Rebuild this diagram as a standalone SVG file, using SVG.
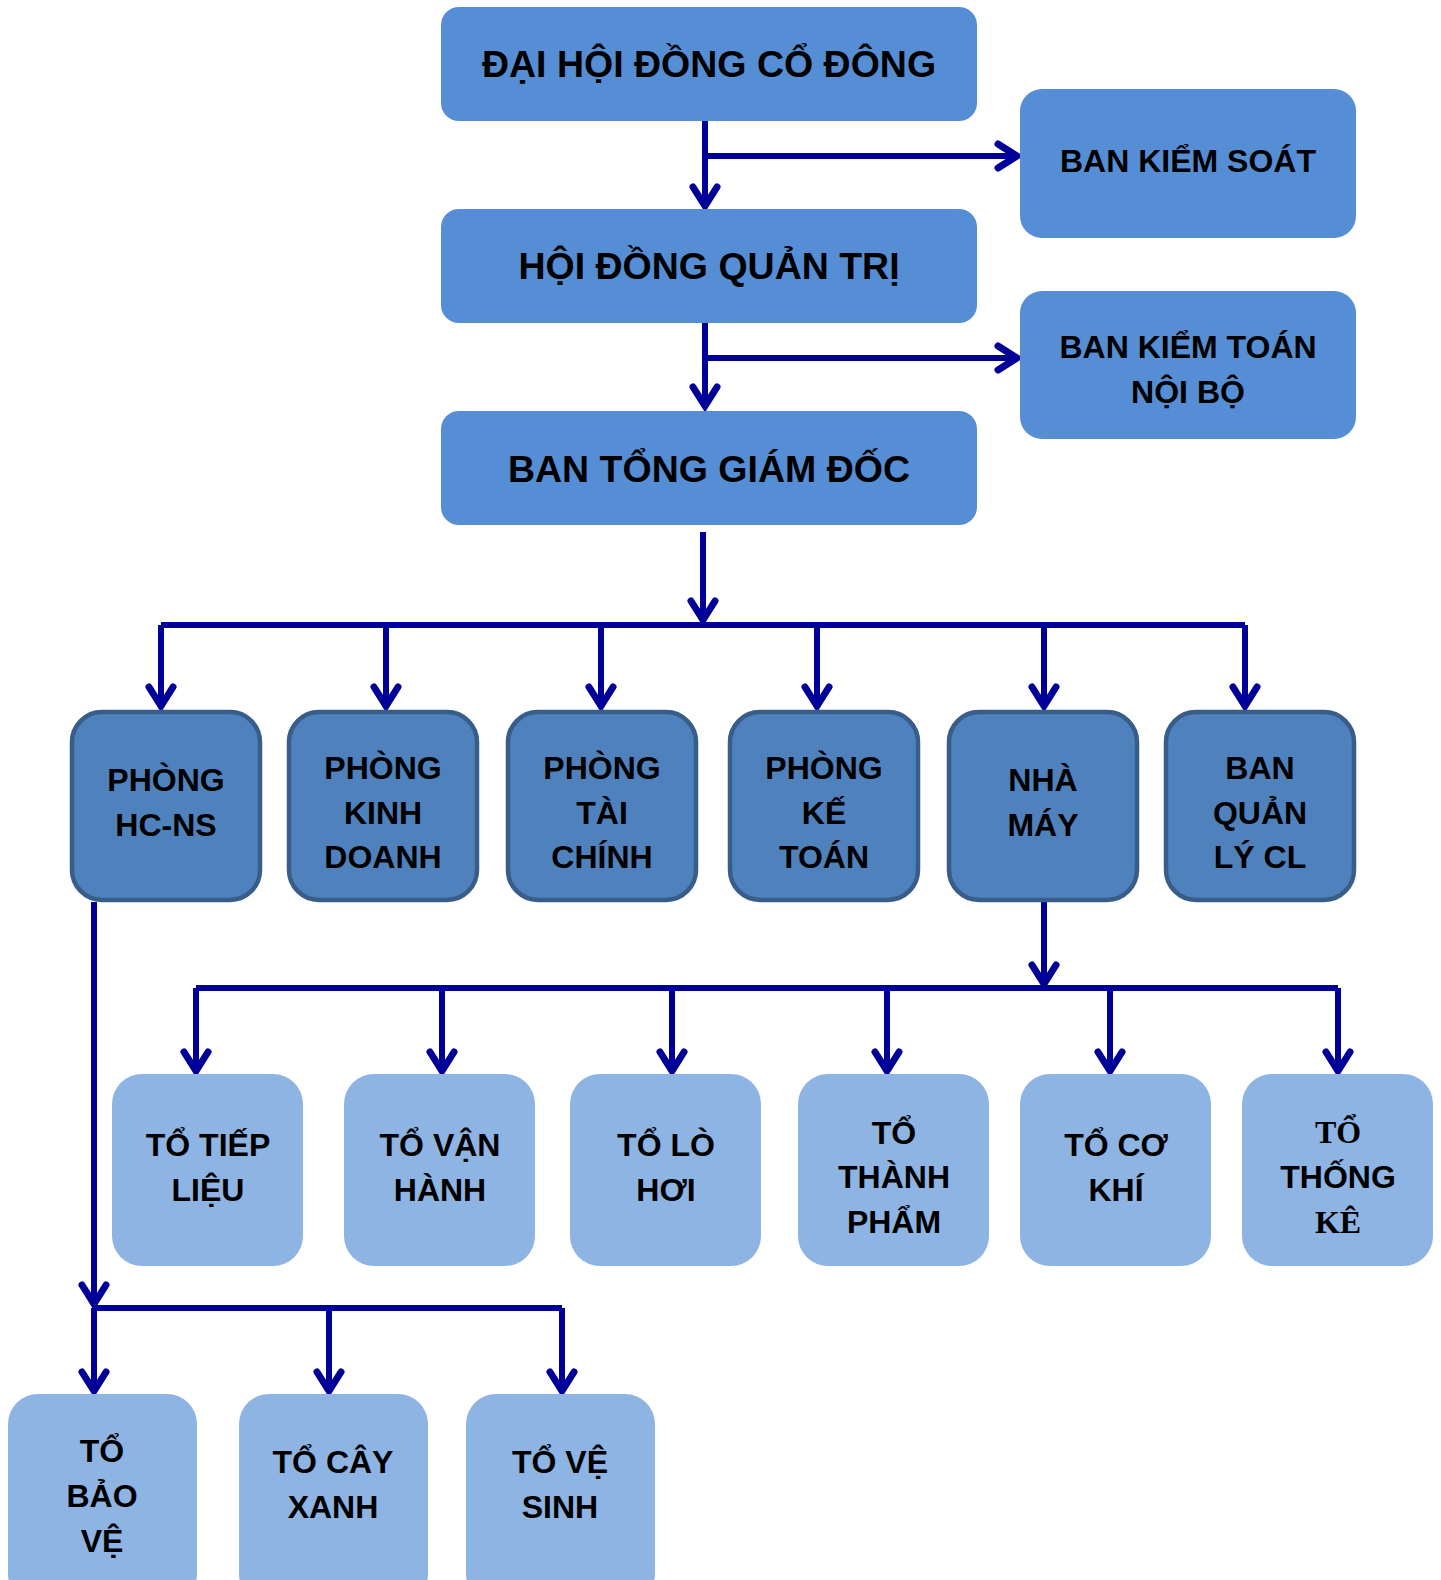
<svg xmlns="http://www.w3.org/2000/svg" width="1441" height="1580" viewBox="0 0 1441 1580">
<style>
  .top { fill: #558ed5; }
  .mid { fill: #4f81bd; stroke: #385d8a; stroke-width: 4.5; }
  .low { fill: #8eb4e3; }
  text { font-family: "Liberation Sans", Arial, sans-serif; font-weight: bold; fill: #000; text-anchor: middle; }
  .t1 { font-size: 37.5px; }
  .t2 { font-size: 32px; }
  .t3 { font-size: 32px; }
  .serif { font-family: "Liberation Serif", "Times New Roman", serif; }
  .conn { fill: none; stroke: #000099; stroke-width: 6; }
</style>
<defs>
  <marker id="arr" markerUnits="userSpaceOnUse" markerWidth="40" markerHeight="40" refX="0" refY="0" viewBox="-25 -20 30 40" orient="auto" overflow="visible">
    <path d="M-20,-12 L-1,0 L-20,12" fill="none" stroke="#000099" stroke-width="7" stroke-linecap="round" stroke-linejoin="miter" stroke-miterlimit="4"/>
  </marker>
</defs>

<rect width="1441" height="1580" fill="#ffffff"/>

<g id="connectors" class="conn">
  <path d="M705,121 V207" marker-end="url(#arr)"/>
  <path d="M705,156 H1018" marker-end="url(#arr)"/>
  <path d="M705,323 V407" marker-end="url(#arr)"/>
  <path d="M705,358 H1018" marker-end="url(#arr)"/>
  <path d="M703,532 V621" marker-end="url(#arr)"/>
  <path d="M161,625 H1245"/>
  <path d="M161,625 V707" marker-end="url(#arr)"/>
  <path d="M386,625 V707" marker-end="url(#arr)"/>
  <path d="M601,625 V707" marker-end="url(#arr)"/>
  <path d="M817,625 V707" marker-end="url(#arr)"/>
  <path d="M1044,625 V707" marker-end="url(#arr)"/>
  <path d="M1245,625 V707" marker-end="url(#arr)"/>
  <path d="M1044,902 V985" marker-end="url(#arr)"/>
  <path d="M196,988 H1338"/>
  <path d="M196,988 V1072" marker-end="url(#arr)"/>
  <path d="M442,988 V1072" marker-end="url(#arr)"/>
  <path d="M672,988 V1072" marker-end="url(#arr)"/>
  <path d="M887,988 V1072" marker-end="url(#arr)"/>
  <path d="M1110,988 V1072" marker-end="url(#arr)"/>
  <path d="M1338,988 V1072" marker-end="url(#arr)"/>
  <path d="M94,902 V1305" marker-end="url(#arr)"/>
  <path d="M94,1308 H562"/>
  <path d="M94,1308 V1392" marker-end="url(#arr)"/>
  <path d="M329,1308 V1392" marker-end="url(#arr)"/>
  <path d="M562,1308 V1392" marker-end="url(#arr)"/>
</g>

<g id="dai-hoi-dong-co-dong">
  <rect class="top" x="441" y="7" width="536" height="114" rx="18"/>
  <text class="t1" x="709" y="77">ĐẠI HỘI ĐỒNG CỔ ĐÔNG</text>
</g>
<g id="ban-kiem-soat">
  <rect class="top" x="1020" y="89" width="336" height="149" rx="22"/>
  <text class="t2" x="1188" y="172">BAN KIỂM SOÁT</text>
</g>
<g id="hoi-dong-quan-tri">
  <rect class="top" x="441" y="209" width="536" height="114" rx="18"/>
  <text class="t1" x="709" y="279">HỘI ĐỒNG QUẢN TRỊ</text>
</g>
<g id="ban-kiem-toan-noi-bo">
  <rect class="top" x="1020" y="291" width="336" height="148" rx="22"/>
  <text class="t2" x="1188" y="358">BAN KIỂM TOÁN</text>
  <text class="t2" x="1188" y="403">NỘI BỘ</text>
</g>
<g id="ban-tong-giam-doc">
  <rect class="top" x="441" y="411" width="536" height="114" rx="18"/>
  <text class="t1" x="709" y="482">BAN TỔNG GIÁM ĐỐC</text>
</g>

<g id="phong-hc-ns">
  <rect class="mid" x="72" y="712" width="188" height="188" rx="30"/>
  <text class="t3" x="166" y="791">PHÒNG</text>
  <text class="t3" x="166" y="836">HC-NS</text>
</g>
<g id="phong-kinh-doanh">
  <rect class="mid" x="289" y="712" width="188" height="188" rx="30"/>
  <text class="t3" x="383" y="779">PHÒNG</text>
  <text class="t3" x="383" y="824">KINH</text>
  <text class="t3" x="383" y="868">DOANH</text>
</g>
<g id="phong-tai-chinh">
  <rect class="mid" x="508" y="712" width="188" height="188" rx="30"/>
  <text class="t3" x="602" y="779">PHÒNG</text>
  <text class="t3" x="602" y="824">TÀI</text>
  <text class="t3" x="602" y="868">CHÍNH</text>
</g>
<g id="phong-ke-toan">
  <rect class="mid" x="730" y="712" width="188" height="188" rx="30"/>
  <text class="t3" x="824" y="779">PHÒNG</text>
  <text class="t3" x="824" y="824">KẾ</text>
  <text class="t3" x="824" y="868">TOÁN</text>
</g>
<g id="nha-may">
  <rect class="mid" x="949" y="712" width="188" height="188" rx="30"/>
  <text class="t3" x="1043" y="791">NHÀ</text>
  <text class="t3" x="1043" y="836">MÁY</text>
</g>
<g id="ban-quan-ly-cl">
  <rect class="mid" x="1166" y="712" width="188" height="188" rx="30"/>
  <text class="t3" x="1260" y="779">BAN</text>
  <text class="t3" x="1260" y="824">QUẢN</text>
  <text class="t3" x="1260" y="868">LÝ CL</text>
</g>

<g id="to-tiep-lieu">
  <rect class="low" x="112" y="1074" width="191" height="192" rx="30"/>
  <text class="t3" x="208" y="1156">TỔ TIẾP</text>
  <text class="t3" x="208" y="1201">LIỆU</text>
</g>
<g id="to-van-hanh">
  <rect class="low" x="344" y="1074" width="191" height="192" rx="30"/>
  <text class="t3" x="440" y="1156">TỔ VẬN</text>
  <text class="t3" x="440" y="1201">HÀNH</text>
</g>
<g id="to-lo-hoi">
  <rect class="low" x="570" y="1074" width="191" height="192" rx="30"/>
  <text class="t3" x="666" y="1156">TỔ LÒ</text>
  <text class="t3" x="666" y="1201">HƠI</text>
</g>
<g id="to-thanh-pham">
  <rect class="low" x="798" y="1074" width="191" height="192" rx="30"/>
  <text class="t3" x="894" y="1144">TỔ</text>
  <text class="t3" x="894" y="1188">THÀNH</text>
  <text class="t3" x="894" y="1233">PHẨM</text>
</g>
<g id="to-co-khi">
  <rect class="low" x="1020" y="1074" width="191" height="192" rx="30"/>
  <text class="t3" x="1116" y="1156">TỔ CƠ</text>
  <text class="t3" x="1116" y="1201">KHÍ</text>
</g>
<g id="to-thong-ke">
  <rect class="low" x="1242" y="1074" width="191" height="192" rx="30"/>
  <text class="t3 serif" x="1338" y="1143">TỔ</text>
  <text class="t3" x="1338" y="1188">THỐNG</text>
  <text class="t3 serif" x="1338" y="1233">KÊ</text>
</g>

<g id="to-bao-ve">
  <rect class="low" x="8" y="1394" width="189" height="210" rx="30"/>
  <text class="t3" x="102" y="1462">TỔ</text>
  <text class="t3" x="102" y="1507">BẢO</text>
  <text class="t3" x="102" y="1552">VỆ</text>
</g>
<g id="to-cay-xanh">
  <rect class="low" x="239" y="1394" width="189" height="210" rx="30"/>
  <text class="t3" x="333" y="1473">TỔ CÂY</text>
  <text class="t3" x="333" y="1518">XANH</text>
</g>
<g id="to-ve-sinh">
  <rect class="low" x="466" y="1394" width="189" height="210" rx="30"/>
  <text class="t3" x="560" y="1473">TỔ VỆ</text>
  <text class="t3" x="560" y="1518">SINH</text>
</g>
</svg>
